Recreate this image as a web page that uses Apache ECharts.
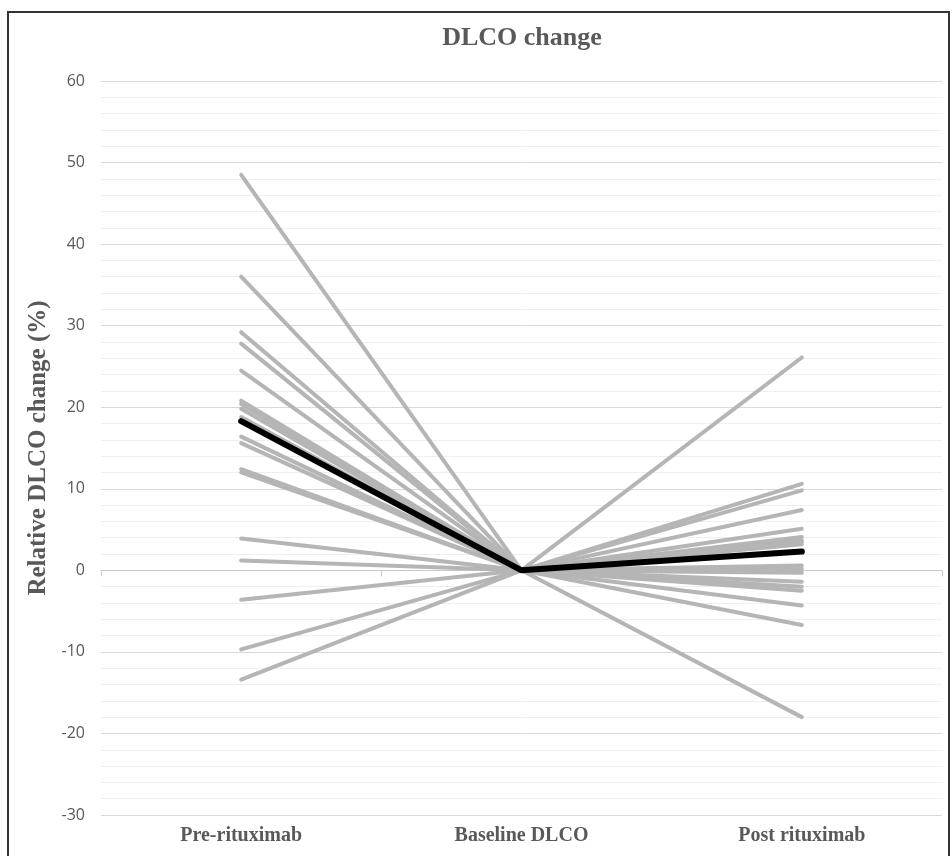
<!DOCTYPE html>
<html><head><meta charset="utf-8">
<script src="https://cdn.jsdelivr.net/npm/echarts@6/dist/echarts.min.js"></script>
<style>html,body{margin:0;padding:0;background:#fff}#c{width:952px;height:856px}</style>
</head><body><div id="c"></div>
<script>
const categories = ['Pre-rituximab', 'Baseline DLCO', 'Post rituximab'];
const yTicks = [-30, -20, -10, 0, 10, 20, 30, 40, 50, 60];
// Individual patients: relative DLCO change (%) before and after rituximab
const preValues  = [48.5, 36.0, 29.2, 27.8, 24.5, 20.8, 20.4, 19.8, 18.8, 16.4, 15.6, 12.4, 12.0, 3.9, 1.2, -3.6, -9.7, -13.4];
const baseValues = [0, 0, 0, 0, 0, 0, 0, 0, 0, 0, 0, 0, 0, 0, 0, 0, 0, 0];
const postValues = [-18.0, 10.6, 9.8, 7.4, 5.1, 4.1, 3.7, 3.2, 0.6, 0.2, -0.3, -1.4, -2.0, -2.5, -4.3, -6.7, 26.1, 3.5];
// Mean line
const meanValues = [18.3, 0, 2.3];

const series = preValues.map((p, i) => ({
  type: 'line', data: [p, baseValues[i], postValues[i]], symbol: 'none', z: 2,
  lineStyle: { color: '#b5b5b5', width: 4, cap: 'round' }, silent: true
}));
series.push({
  type: 'line', data: meanValues, symbol: 'none', z: 5,
  lineStyle: { color: '#000', width: 6, cap: 'round' }
});
series.push({ type: 'line', xAxisIndex: 1, data: [], symbol: 'none' });

const chart = echarts.init(document.getElementById('c'));
chart.setOption({
  animation: false,
  backgroundColor: '#fff',
  title: { text: 'DLCO change', left: 517, textAlign: 'center', top: 20,
    textStyle: { fontFamily: 'Liberation Serif', fontWeight: 'bold', fontSize: 26, color: '#595959' } },
  grid: { left: 101, right: 10, top: 81, bottom: 41 },
  xAxis: [{
    type: 'category', data: categories, position: 'bottom',
    axisLine: { show: false, onZero: false }, axisTick: { show: false },
    axisLabel: { margin: 11, fontFamily: 'Liberation Serif', fontWeight: 'bold', fontSize: 20, color: '#595959' }
  }, {
    type: 'category', data: categories, position: 'bottom',
    axisLine: { show: true, onZero: true, lineStyle: { color: '#c8c8c8', width: 1 } },
    axisTick: { show: true, length: 6, lineStyle: { color: '#c8c8c8' } },
    axisLabel: { show: false }
  }],
  yAxis: {
    type: 'value', min: -30, max: 60, interval: 10,
    name: 'Relative DLCO change (%)', nameLocation: 'middle', nameGap: 42,
    nameTextStyle: { fontFamily: 'Liberation Serif', fontWeight: 'bold', fontSize: 25, color: '#595959' },
    axisLine: { show: false }, axisTick: { show: false },
    axisLabel: { margin: 16, fontFamily: 'Open Sans', fontSize: 16, color: '#595959',
      formatter: v => yTicks.includes(v) ? String(v) : '' },
    splitLine: { lineStyle: { color: '#d9d9d9', width: 1 } },
    minorTick: { show: false, splitNumber: 5 },
    minorSplitLine: { show: true, lineStyle: { color: '#efefef', width: 1 } }
  },
  graphic: [{ type: 'rect', shape: { x: 8, y: 12, width: 941, height: 860 },
    style: { fill: 'none', stroke: '#333', lineWidth: 2 }, silent: true }],
  series
});
</script></body></html>
